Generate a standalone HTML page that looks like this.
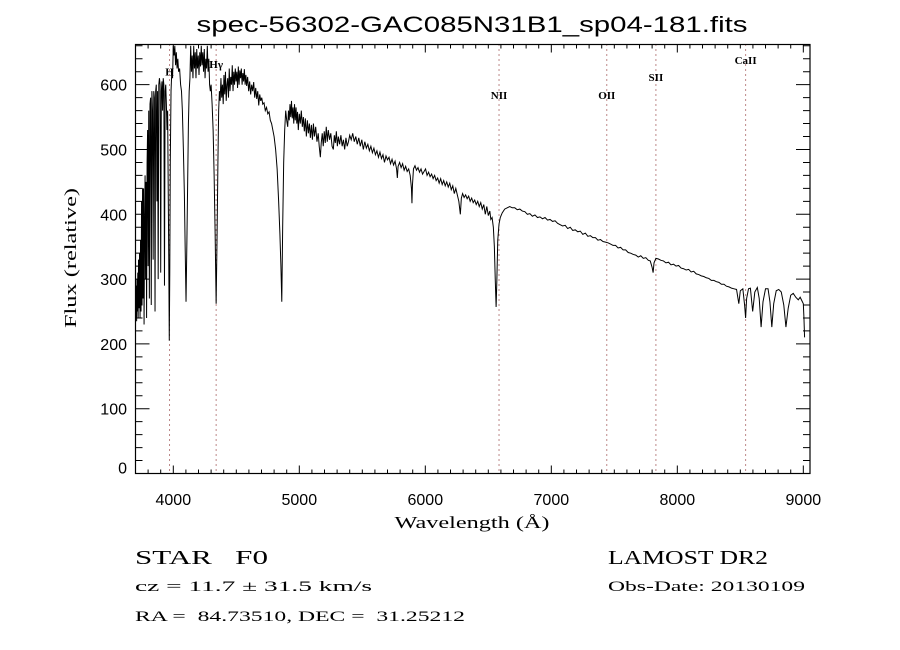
<!DOCTYPE html>
<html><head><meta charset="utf-8"><style>
html,body{margin:0;padding:0;background:#fff;}
svg{display:block;font-family:"Liberation Sans",sans-serif;}
text{white-space:pre;}
</style></head><body>
<svg id="chart" width="900" height="650" viewBox="0 0 900 650" xmlns="http://www.w3.org/2000/svg" xml:space="preserve">
<rect width="900" height="650" fill="#fff"/>
<text x="472" y="32" font-size="22" text-anchor="middle" textLength="551" lengthAdjust="spacingAndGlyphs">spec-56302-GAC085N31B1_sp04-181.fits</text>
<defs><clipPath id="clip"><rect x="135.5" y="44.5" width="674.5" height="429"/></clipPath></defs>
<g id="lines"></g>
<g id="ticks"></g>
<path id="spec" fill="none" stroke="#000" stroke-width="1" clip-path="url(#clip)"/>
<rect x="135.5" y="44.5" width="674.5" height="429" fill="none" stroke="#000" stroke-width="1.2"/>
<text x="472" y="528" font-size="17" text-anchor="middle" font-family="Liberation Serif, serif" textLength="155" lengthAdjust="spacingAndGlyphs">Wavelength (Å)</text>
<text transform="translate(76,258) rotate(-90)" font-size="17" text-anchor="middle" font-family="Liberation Serif, serif" textLength="140" lengthAdjust="spacingAndGlyphs">Flux (relative)</text>
<text x="135" y="564" font-size="20" font-family="Liberation Serif, serif" textLength="133" lengthAdjust="spacingAndGlyphs">STAR   F0</text>
<text x="135" y="591" font-size="15" font-family="Liberation Serif, serif" textLength="237" lengthAdjust="spacingAndGlyphs">cz = 11.7 ± 31.5 km/s</text>
<text x="135" y="621" font-size="15" font-family="Liberation Serif, serif" textLength="330" lengthAdjust="spacingAndGlyphs">RA =  84.73510, DEC =  31.25212</text>
<text x="608" y="564" font-size="20" font-family="Liberation Serif, serif" textLength="160" lengthAdjust="spacingAndGlyphs">LAMOST DR2</text>
<text x="608" y="591" font-size="15" font-family="Liberation Serif, serif" textLength="197" lengthAdjust="spacingAndGlyphs">Obs-Date: 20130109</text>
</svg>
<script>
const lam=[3702,3706,3709,3712,3715,3718,3721,3724,3728,3732,3736,3740,3744,3748,3752,3756,3760,3764,3768,3772,3776,3780,3784,3788,3792,3796,3800,3805,3810,3815,3820,3825,3830,3835,3840,3845,3850,3855,3860,3865,3870,3875,3880,3885,3890,3895,3900,3905,3910,3915,3920,3925,3930,3935,3940,3945,3950,3955,3960,3964,3968,3972,3976,3982,3988,3994,4000,4006,4012,4018,4024,4030,4036,4042,4050,4058,4065,4072,4080,4088,4094,4101,4108,4114,4120,4126,4132,4138,4144,4150,4156,4162,4168,4174,4180,4186,4192,4198,4204,4210,4216,4222,4228,4234,4240,4246,4252,4258,4264,4270,4276,4282,4288,4294,4300,4308,4316,4324,4332,4340,4347,4354,4360,4366,4372,4378,4384,4390,4396,4402,4408,4414,4420,4426,4432,4438,4444,4450,4456,4462,4468,4474,4480,4486,4492,4498,4504,4510,4516,4522,4528,4534,4540,4546,4552,4558,4564,4570,4576,4582,4590,4598,4606,4614,4622,4630,4638,4646,4654,4662,4670,4678,4686,4694,4702,4710,4720,4730,4740,4750,4760,4770,4780,4790,4800,4812,4824,4836,4846,4854,4861,4868,4876,4884,4892,4900,4908,4914,4920,4926,4932,4938,4944,4950,4956,4962,4968,4974,4980,4986,4992,5000,5008,5016,5024,5032,5040,5048,5056,5064,5072,5080,5088,5096,5104,5112,5120,5130,5140,5150,5158,5167,5174,5182,5190,5198,5206,5214,5222,5230,5240,5250,5260,5270,5278,5286,5294,5302,5310,5320,5330,5340,5350,5360,5370,5380,5390,5400,5412,5424,5436,5448,5460,5472,5484,5496,5508,5520,5532,5544,5556,5568,5580,5592,5604,5616,5628,5640,5652,5664,5676,5688,5700,5712,5724,5736,5748,5760,5772,5778,5784,5796,5808,5820,5832,5844,5856,5868,5880,5890,5894,5898,5906,5918,5930,5942,5954,5966,5978,5990,6002,6014,6026,6038,6050,6062,6074,6086,6098,6110,6122,6134,6146,6158,6170,6182,6194,6206,6218,6230,6242,6254,6266,6278,6286,6296,6308,6320,6332,6344,6356,6368,6380,6392,6404,6416,6428,6440,6452,6464,6476,6488,6500,6512,6520,6530,6540,6548,6555,6562,6568,6575,6585,6595,6610,6630,6650,6670,6690,6710,6730,6750,6770,6790,6810,6830,6850,6870,6890,6910,6930,6950,6970,6990,7010,7030,7050,7070,7090,7110,7130,7150,7170,7190,7210,7230,7250,7270,7290,7310,7330,7350,7370,7390,7410,7430,7450,7470,7490,7510,7530,7550,7570,7590,7610,7630,7650,7670,7690,7710,7730,7750,7770,7785,7800,7808,7815,7830,7850,7870,7890,7910,7930,7950,7970,7990,8010,8030,8050,8070,8090,8110,8130,8150,8170,8190,8210,8230,8250,8270,8290,8310,8330,8350,8370,8390,8410,8430,8450,8470,8488,8500,8520,8534,8542,8550,8565,8580,8598,8615,8635,8650,8665,8680,8700,8720,8735,8750,8765,8785,8805,8825,8845,8862,8880,8900,8920,8940,8960,8975,8990,9000,9005,9010];
const flux=[240,290,235,300,250,310,240,330,255,340,240,360,250,420,260,440,270,440,230,380,460,300,450,240,480,530,320,560,270,570,580,260,590,560,330,590,580,250,590,600,420,590,300,600,610,600,310,590,605,560,610,600,290,590,600,570,530,560,430,330,205,310,480,590,620,610,660,645,660,630,650,625,640,620,625,600,590,560,500,430,350,265,360,450,540,590,610,660,620,645,610,660,625,650,610,655,625,645,615,650,628,660,630,650,620,655,610,640,625,660,620,640,600,590,600,570,530,460,370,262,360,480,560,590,575,610,580,600,570,615,585,620,575,600,610,580,625,590,612,600,630,590,620,600,625,605,620,595,628,600,622,610,625,600,618,605,624,600,615,598,612,590,605,585,600,590,604,580,595,578,590,568,585,575,580,570,572,560,565,555,558,545,540,530,520,500,470,420,370,320,265,380,480,530,560,545,535,560,545,570,550,575,548,565,540,570,545,565,540,558,530,555,540,560,535,550,528,548,520,545,525,540,518,538,515,540,520,535,512,525,505,488,510,525,505,528,510,535,512,530,515,525,505,500,522,510,528,505,520,508,522,505,515,500,518,505,512,522,515,525,512,520,508,518,505,515,500,512,502,508,498,505,495,502,492,498,488,496,486,492,480,490,484,488,478,485,476,482,470,456,474,480,472,478,468,474,466,470,460,440,417,445,470,475,468,472,465,470,462,466,470,460,465,458,462,455,460,452,456,448,455,446,452,444,450,442,448,438,444,432,440,430,420,400,425,432,426,430,424,428,420,425,418,422,415,420,412,418,408,415,400,412,398,405,392,395,380,350,300,257,300,360,385,395,402,408,410,412,410,410,407,408,405,404,400,401,397,399,395,396,393,395,391,392,389,390,386,384,382,383,378,380,375,376,373,374,369,371,366,367,364,364,360,361,358,357,356,354,352,352,348,349,345,345,341,340,338,337,334,336,332,333,329,328,318,310,325,332,331,329,328,325,326,322,323,320,321,317,316,314,315,311,312,308,307,305,304,302,301,298,298,296,295,292,292,289,288,286,285,284,262,282,285,260,240,270,285,286,250,280,287,270,226,265,285,285,265,226,262,282,284,280,260,226,255,275,278,272,268,272,266,262,240,210];
const xTicks=[4000,5000,6000,7000,8000,9000];
const yTicks=[0,100,200,300,400,500,600];
const markerNames=["H","Hγ","NII","OII","SII","CaII"];
const markerLam=[3970,4340,6585,7440,7830,8542];
const markerLabelFlux=[614,626,578,578,606,632];

const NS="http://www.w3.org/2000/svg";
const X0=135.5,X1=810,Y0=473.5,Y1=44.5,LMIN=3700,LMAX=9053,FMIN=0,FMAX=662;
function xs(l){return X0+(l-LMIN)/(LMAX-LMIN)*(X1-X0);}
function ys(f){return Y0-(f-FMIN)/(FMAX-FMIN)*(Y0-Y1);}
function mk(tag,attrs,parent){const e=document.createElementNS(NS,tag);for(const k in attrs)e.setAttribute(k,attrs[k]);parent.appendChild(e);return e;}
const svg=document.getElementById('chart');
let d='';for(let i=0;i<lam.length;i++){d+=(i?'L':'M')+xs(lam[i]).toFixed(2)+','+ys(flux[i]).toFixed(2);}
document.getElementById('spec').setAttribute('d',d);
const tg=document.getElementById('ticks');
let td='';
for(let l=3800;l<=9000;l+=100){const x=xs(l);const L=(l%1000===0)?8:4;td+=`M${x},${Y0}v${-L}M${x},${Y1}v${L}`;}
for(let f=0;f<=660;f+=20){const y=ys(f);const L=(f%100===0)?14:7;td+=`M${X0},${y}h${L}M${X1},${y}h${-L}`;}
mk('path',{d:td,stroke:'#000','stroke-width':1,fill:'none'},tg);
xTicks.forEach(v=>{const t=mk('text',{x:xs(v),y:505,'font-size':16,'text-anchor':'middle'},svg);t.textContent=v;

});
yTicks.forEach(v=>{const t=mk('text',{x:127,y:ys(v)+(v===0?0:6),'font-size':16,'text-anchor':'end'},svg);t.textContent=v;

});
const lg=document.getElementById('lines');
markerLam.forEach((l,i)=>{const x=xs(l);
const ln=mk('line',{x1:x,x2:x,y1:Y1,y2:Y0,stroke:'#7a1010','stroke-width':1,'stroke-dasharray':'1,4'},lg);


const t=mk('text',{x:x,y:ys(markerLabelFlux[i]),'font-size':11,'text-anchor':'middle','font-family':'Liberation Serif, serif','font-weight':'bold'},lg);t.textContent=markerNames[i];

});
</script>
</body></html>
